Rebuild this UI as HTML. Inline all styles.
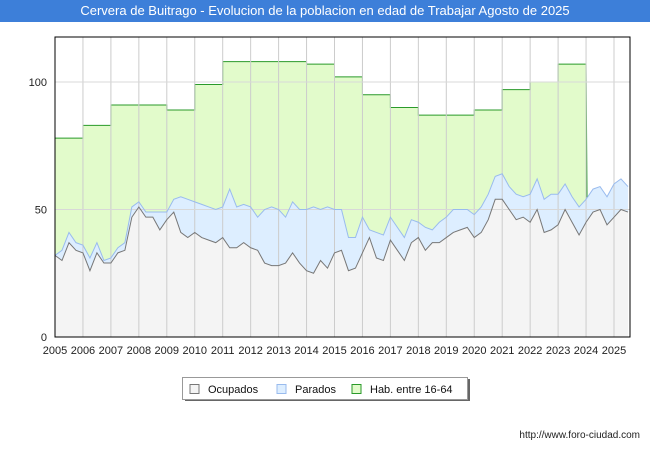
<!DOCTYPE html>
<html><head><meta charset="utf-8"><style>
body{margin:0;width:650px;height:450px;background:#fff;font-family:"Liberation Sans",sans-serif;overflow:hidden}
#title{position:absolute;left:0;top:0;width:650px;height:22px;background:#3d7fd9;color:#fff;font-size:13px;line-height:22px;text-align:center}
svg{position:absolute;left:0;top:0}
</style></head><body>
<div id="title">Cervera de Buitrago - Evolucion de la poblacion en edad de Trabajar Agosto de 2025</div>
<svg id="c" width="650" height="450"></svg>
<script>
const habYears=[2005,2006,2007,2008,2009,2010,2011,2012,2013,2014,2015,2016,2017,2018,2019,2020,2021,2022,2023];
const habValues=[78,83,91,91,89,99,108,108,108,107,102,95,90,87,87,89,97,100,107];
const ocupados=[32,30,37,34,33,26,33,29,29,33,34,47,51,47,47,42,46,49,41,39,41,39,38,37,39,35,35,37,35,34,29,28,28,29,33,29,26,25,30,27,33,34,26,27,33,39,31,30,38,34,30,37,39,34,37,37,39,41,42,43,39,41,46,54,54,50,46,47,45,50,41,42,44,50,45,40,45,49,50,44,47,50,49];
const totalParados=[32,34,41,37,36,31,37,30,31,35,37,51,53,49,49,49,49,54,55,54,53,52,51,50,51,58,51,52,51,47,50,51,50,47,53,50,50,51,50,51,50,50,39,39,47,42,41,40,47,43,39,46,45,43,42,45,47,50,50,50,48,51,56,63,64,59,56,55,56,62,54,56,56,60,55,51,54,58,59,55,60,62,59];
const yTicks=[0,50,100];
const xLabels=[2005,2006,2007,2008,2009,2010,2011,2012,2013,2014,2015,2016,2017,2018,2019,2020,2021,2022,2023,2024,2025];
const X0=55,X1=630,Y0=337,Y1=37;
const xs=t=>X0+(t-2005)*27.95;
const ys=v=>Y0-v*2.55;
const tAt=i=>2005+i*0.25;
const svg=document.getElementById('c');const NS='http://www.w3.org/2000/svg';
function mk(tag,at){const e=document.createElementNS(NS,tag);for(const k in at)e.setAttribute(k,at[k]);svg.appendChild(e);return e;}
let r=mk('rect',{x:X0,y:Y1,width:X1-X0,height:Y0-Y1,fill:'#fff'});


// hab area
let hp=`M${xs(2005)},${ys(totalParados[0])}`;
habYears.forEach((y,i)=>{hp+=` L${xs(y)},${ys(habValues[i])} L${xs(y+1)},${ys(habValues[i])}`;});
hp+=` L${xs(2024)+1},${ys(totalParados[76])}`;
let tp='';for(let i=76;i>=0;i--)tp+=` L${xs(tAt(i))},${ys(totalParados[i])}`;
let e=mk('path',{d:hp+tp+'Z',fill:'#e2fbcb',stroke:'none'});


let hl='';habYears.forEach((y,i)=>{hl+=(i?' L':'M')+`${xs(y)},${ys(habValues[i])} L${xs(y+1)},${ys(habValues[i])}`;});
e=mk('path',{d:hl+` L${xs(2024)+1},${ys(totalParados[76])}`,fill:'none',stroke:'#2a9a2a','stroke-width':1});


// parados area
let pl=totalParados.map((v,i)=>(i?'L':'M')+xs(tAt(i))+','+ys(v)).join(' ');
let ol=ocupados.map((v,i)=>(i?'L':'M')+xs(tAt(i))+','+ys(v)).join(' ');
let olr='';for(let i=ocupados.length-1;i>=0;i--)olr+=` L${xs(tAt(i))},${ys(ocupados[i])}`;
e=mk('path',{d:pl+olr+'Z',fill:'#ddeeff'});


const last=tAt(ocupados.length-1);
e=mk('path',{d:ol+` L${xs(last)},${Y0} L${X0},${Y0}Z`,fill:'#f4f4f4'});


// grid
for(let y=2006;y<=2025;y++){e=mk('line',{x1:xs(y),x2:xs(y),y1:Y1,y2:Y0,stroke:'#cccccc','stroke-width':1});

}
yTicks.forEach(v=>{e=mk('line',{x1:X0,x2:X1,y1:ys(v),y2:ys(v),stroke:'#d8d8d8'});


let t=mk('text',{x:X0-8,y:ys(v)+4,'text-anchor':'end','font-size':11,fill:'#222'});t.textContent=v;

});
e=mk('path',{d:pl,fill:'none',stroke:'#99bbee','stroke-width':1});


e=mk('path',{d:ol,fill:'none',stroke:'#777','stroke-width':1});


e=mk('rect',{x:X0,y:Y1,width:X1-X0,height:Y0-Y1,fill:'none',stroke:'#000','stroke-width':1});


xLabels.forEach(y=>{let t=mk('text',{x:xs(y),y:354,'text-anchor':'middle','font-size':11,fill:'#222'});t.textContent=y;

});
// legend
e=mk('rect',{x:185,y:379,width:285,height:22,fill:'#666'});


e=mk('rect',{x:182.5,y:377.5,width:285,height:22,fill:'#fff',stroke:'#999'});


[[190,'#f4f4f4','#777','Ocupados'],[277,'#ddeeff','#99bbee','Parados'],[352,'#e2fbcb','#2a9a2a','Hab. entre 16-64']].forEach(([x,f,s,l])=>{
let b=mk('rect',{x:x,y:384.5,width:9,height:9,fill:f,stroke:s});


let t=mk('text',{x:x+18,y:393,'font-size':11,fill:'#111'});t.textContent=l;

});
let f=mk('text',{x:640,y:438,'text-anchor':'end','font-size':10,fill:'#222'});f.textContent='http://www.foro-ciudad.com';


</script>
</body></html>
